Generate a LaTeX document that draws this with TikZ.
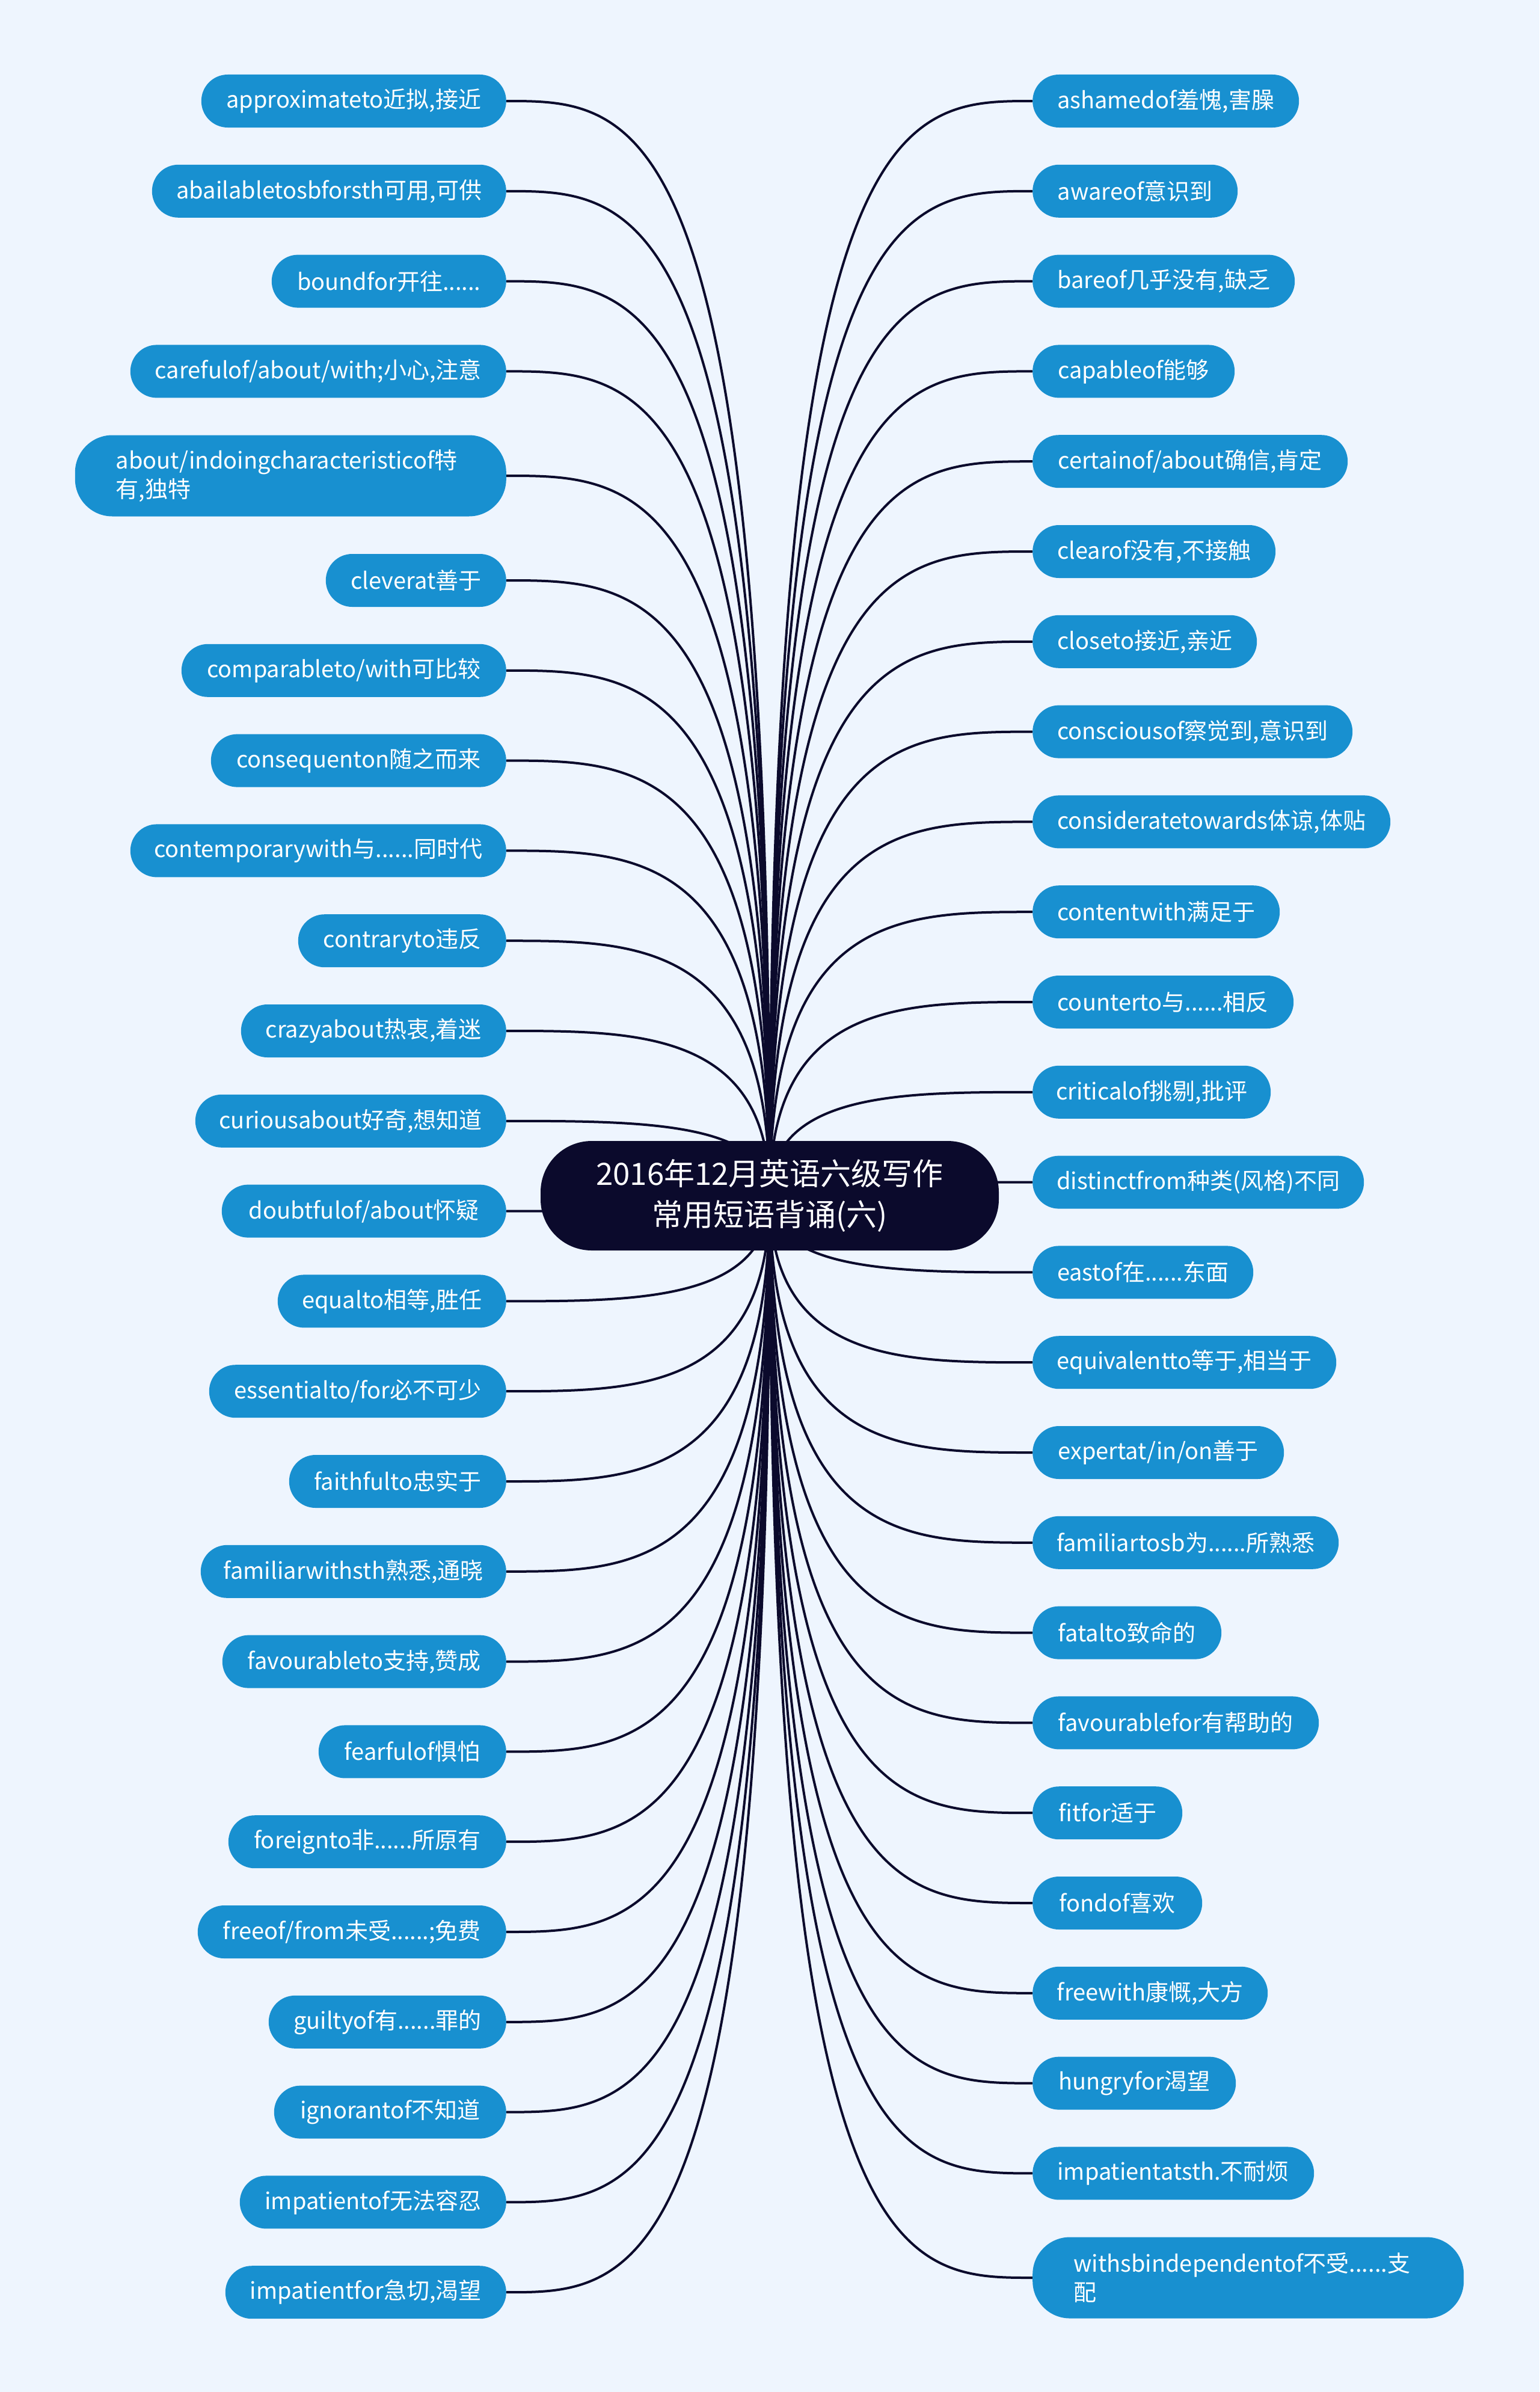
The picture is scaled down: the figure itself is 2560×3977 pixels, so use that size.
\documentclass[tikz,border=0pt]{standalone}
\usepackage{fontspec}
\setmainfont{Noto Sans CJK SC}
\usetikzlibrary{calc}
\pgfdeclarelayer{bg}
\pgfdeclarelayer{edges}
\pgfsetlayers{bg,edges,main}
\definecolor{bgc}{HTML}{EEF5FE}
\definecolor{leafc}{HTML}{1890D0}
\definecolor{navy}{HTML}{0B0A2C}
\tikzset{
  leafbase/.style={shape=rectangle, rounded corners=43.9pt, fill=leafc, text=white,
    minimum height=88pt, inner xsep=0pt, inner ysep=0pt,
    font=\fontsize{38pt}{48pt}\selectfont},
  leafL/.style={leafbase, anchor=east},
  leafR/.style={leafbase, anchor=west},
  twoline/.style={minimum height=135pt, rounded corners=62pt, align=left,
    inner xsep=68pt, text width=581pt},
  rootbox/.style={shape=rectangle, fill=navy, text=white, minimum width=762pt,
    minimum height=182pt, rounded corners=85pt, align=center,
    font=\fontsize{51pt}{68pt}\selectfont},
  conn/.style={draw=navy, line width=4pt}
}
\begin{document}
\begin{tikzpicture}[x=1pt,y=-1pt]
\begin{pgfonlayer}{bg}
\fill[bgc] (0,0) rectangle (2560,3977);
\end{pgfonlayer}
\useasboundingbox (0,0) rectangle (2560,3977);

\node[rootbox] (root) at (1280,1988) {2016年12月英语六级写作\\常用短语背诵(六)};

% left leaves
\node[leafL, minimum width=507pt] (l1) at (842,168) {approximateto近拟,接近};
\node[leafL, minimum width=589pt] (l2) at (842,317.8) {abailabletosbforsth可用,可供};
\node[leafL, minimum width=390pt] (l3) at (842,467.6) {boundfor开往......};
\node[leafL, minimum width=625pt] (l4) at (842,617.4) {carefulof/about/with;小心,注意};
\node[leafL, twoline] (l5) at (842,791) {about/indoingcharacteristicof特\\有,独特};
\node[leafL, minimum width=300pt] (l6) at (842,965) {cleverat善于};
\node[leafL, minimum width=540pt] (l7) at (842,1114.8) {comparableto/with可比较};
\node[leafL, minimum width=491pt] (l8) at (842,1264.6) {consequenton随之而来};
\node[leafL, minimum width=625pt] (l9) at (842,1414.4) {contemporarywith与......同时代};
\node[leafL, minimum width=346pt] (l10) at (842,1564.2) {contraryto违反};
\node[leafL, minimum width=441pt] (l11) at (842,1714) {crazyabout热衷,着迷};
\node[leafL, minimum width=517pt] (l12) at (842,1863.8) {curiousabout好奇,想知道};
\node[leafL, minimum width=473pt] (l13) at (842,2013.6) {doubtfulof/about怀疑};
\node[leafL, minimum width=380pt] (l14) at (842,2163.4) {equalto相等,胜任};
\node[leafL, minimum width=494pt] (l15) at (842,2313.2) {essentialto/for必不可少};
\node[leafL, minimum width=361pt] (l16) at (842,2463) {faithfulto忠实于};
\node[leafL, minimum width=508pt] (l17) at (842,2612.8) {familiarwithsth熟悉,通晓};
\node[leafL, minimum width=472pt] (l18) at (842,2762.6) {favourableto支持,赞成};
\node[leafL, minimum width=312pt] (l19) at (842,2912.4) {fearfulof惧怕};
\node[leafL, minimum width=462pt] (l20) at (842,3062.2) {foreignto非......所原有};
\node[leafL, minimum width=513pt] (l21) at (842,3212) {freeof/from未受......;免费};
\node[leafL, minimum width=395pt] (l22) at (842,3361.8) {guiltyof有......罪的};
\node[leafL, minimum width=386pt] (l23) at (842,3511.6) {ignorantof不知道};
\node[leafL, minimum width=443pt] (l24) at (842,3661.4) {impatientof无法容忍};
\node[leafL, minimum width=467pt] (l25) at (842,3811.2) {impatientfor急切,渴望};

% right leaves
\node[leafR, minimum width=443pt] (r1) at (1717,168) {ashamedof羞愧,害臊};
\node[leafR, minimum width=341pt] (r2) at (1717,317.8) {awareof意识到};
\node[leafR, minimum width=436pt] (r3) at (1717,467.6) {bareof几乎没有,缺乏};
\node[leafR, minimum width=336pt] (r4) at (1717,617.4) {capableof能够};
\node[leafR, minimum width=524pt] (r5) at (1717,767.2) {certainof/about确信,肯定};
\node[leafR, minimum width=404pt] (r6) at (1717,917) {clearof没有,不接触};
\node[leafR, minimum width=373pt] (r7) at (1717,1066.8) {closeto接近,亲近};
\node[leafR, minimum width=532pt] (r8) at (1717,1216.6) {consciousof察觉到,意识到};
\node[leafR, minimum width=595pt] (r9) at (1717,1366.4) {consideratetowards体谅,体贴};
\node[leafR, minimum width=411pt] (r10) at (1717,1516.2) {contentwith满足于};
\node[leafR, minimum width=434pt] (r11) at (1717,1666) {counterto与......相反};
\node[leafR, minimum width=396pt] (r12) at (1717,1815.8) {criticalof挑剔,批评};
\node[leafR, minimum width=551pt] (r13) at (1717,1965.6) {distinctfrom种类(风格)不同};
\node[leafR, minimum width=367pt] (r14) at (1717,2115.4) {eastof在......东面};
\node[leafR, minimum width=505pt] (r15) at (1717,2265.2) {equivalentto等于,相当于};
\node[leafR, minimum width=418pt] (r16) at (1717,2415) {expertat/in/on善于};
\node[leafR, minimum width=509pt] (r17) at (1717,2564.8) {familiartosb为......所熟悉};
\node[leafR, minimum width=314pt] (r18) at (1717,2714.6) {fatalto致命的};
\node[leafR, minimum width=476pt] (r19) at (1717,2864.4) {favourablefor有帮助的};
\node[leafR, minimum width=249pt] (r20) at (1717,3014.2) {fitfor适于};
\node[leafR, minimum width=282pt] (r21) at (1717,3164) {fondof喜欢};
\node[leafR, minimum width=391pt] (r22) at (1717,3313.8) {freewith康慨,大方};
\node[leafR, minimum width=338pt] (r23) at (1717,3463.6) {hungryfor渴望};
\node[leafR, minimum width=468pt] (r24) at (1717,3613.4) {impatientatsth.不耐烦};
\node[leafR, twoline] (r25) at (1717,3787) {withsbindependentof不受......支\\配};

\begin{pgfonlayer}{edges}
\foreach \i in {1,...,25} {
  \draw[conn] (l\i.east) .. controls ($(l\i.east)!0.5!(root.center |- l\i.east)$) and (root.center |- l\i.east) .. (root.center);
  \draw[conn] (r\i.west) .. controls ($(r\i.west)!0.5!(root.center |- r\i.west)$) and (root.center |- r\i.west) .. (root.center);
}
\end{pgfonlayer}
\end{tikzpicture}
\end{document}
